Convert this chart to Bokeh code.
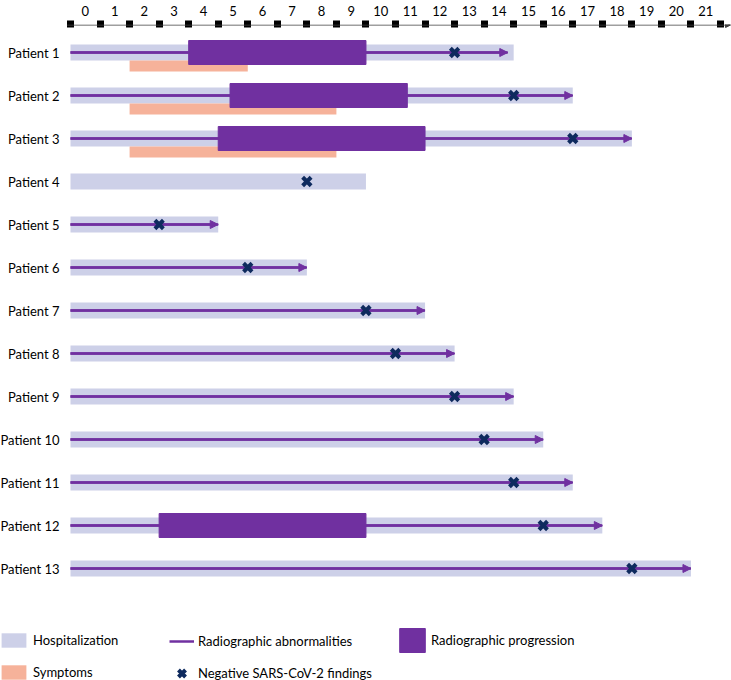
from bokeh.plotting import figure
from bokeh.models import (Range1d, FixedTicker, ColumnDataSource, Arrow, NormalHead,
                          Legend, LegendItem)
from bokeh.embed import file_html
from bokeh.resources import INLINE

# ---------------- data ----------------
patient_labels = ["Patient 1", "Patient 2", "Patient 3", "Patient 4", "Patient 5",
                  "Patient 6", "Patient 7", "Patient 8", "Patient 9", "Patient 10",
                  "Patient 11", "Patient 12", "Patient 13"]
patient_num = [1, 2, 3, 4, 5, 6, 7, 8, 9, 10, 11, 12, 13]
day_ticks = [0, 1, 2, 3, 4, 5, 6, 7, 8, 9, 10, 11, 12, 13, 14, 15, 16, 17, 18, 19, 20, 21]
day_bounds = [0, 1, 2, 3, 4, 5, 6, 7, 8, 9, 10, 11, 12, 13, 14, 15, 16, 17, 18, 19, 20, 21, 22]

hosp_start = [0, 0, 0, 0, 0, 0, 0, 0, 0, 0, 0, 0, 0]
hosp_end = [15, 17, 19, 10, 5, 8, 12, 13, 15, 16, 17, 18, 21]

neg_day = [13, 15, 17, 8, 3, 6, 10, 11, 13, 14, 15, 16, 19]

abn_patients = [1, 2, 3, 5, 6, 7, 8, 9, 10, 11, 12, 13]
abn_start = [0, 0, 0, 0, 0, 0, 0, 0, 0, 0, 0, 0]
abn_end = [14.8, 17, 19, 5, 8, 12, 13, 15, 16, 17, 18, 21]

prog_patients = [1, 2, 3, 12]
prog_start = [4, 5.4, 5, 3]
prog_end = [10, 11.4, 12, 10]

symp_patients = [1, 2, 3]
symp_start = [2, 2, 2]
symp_end = [6, 9, 9]

# ---------------- style / geometry ----------------
FONT = "Lato"
HOSP = "#CDD0E8"
PURPLE = "#7030A0"
SYMP = "#F6B29A"
NAVY = "#0E2A5E"
AXIS = "#404040"

W, H = 731, 680
DAY_PX = 650 / 22.0          # pixels per day
X0_PX = 70.0                 # pixel of day 0
ROW_PX = 43.0                # pixels per patient row
FRAME_TOP = 24
Y_TOP = 1 - 28.0 / ROW_PX
Y_BOTTOM = Y_TOP + (H - FRAME_TOP) / ROW_PX
X_START = -X0_PX / DAY_PX
X_END = (W - X0_PX) / DAY_PX

p = figure(width=W, height=H, output_backend="svg", toolbar_location=None,
           x_range=Range1d(X_START, X_END), y_range=Range1d(Y_BOTTOM, Y_TOP),
           x_axis_location="above", min_border_left=0, min_border_top=FRAME_TOP,
           min_border_right=0, min_border_bottom=0, outline_line_color=None)
p.grid.visible = False

# top axis: labels between square markers
xa = p.xaxis[0]
xa.ticker = FixedTicker(ticks=[d + 0.5 for d in day_ticks], minor_ticks=day_bounds)
xa.major_label_overrides = {d + 0.5: str(d) for d in day_ticks}
xa.major_tick_line_color = None
xa.major_tick_out = 0
xa.major_tick_in = 0
xa.major_label_standoff = 5
xa.minor_tick_line_color = "black"
xa.minor_tick_line_width = 7
xa.minor_tick_in = 3
xa.minor_tick_out = 4
xa.axis_line_color = None
xa.major_label_text_font = FONT
xa.major_label_text_font_size = "13px"
xa.major_label_text_color = "black"

# axis line with arrow head
p.add_layout(Arrow(x_start=-0.12, y_start=Y_TOP + 0.5 / ROW_PX, x_end=22.34,
                   y_end=Y_TOP + 0.5 / ROW_PX, line_color=AXIS, line_width=1,
                   end=NormalHead(size=5, fill_color=AXIS, line_color=AXIS)))

# left axis: patient labels
ya = p.yaxis[0]
ya.fixed_location = -4.0 / DAY_PX
ya.ticker = FixedTicker(ticks=patient_num)
ya.major_label_overrides = {n: lab for n, lab in zip(patient_num, patient_labels)}
ya.axis_line_color = None
ya.major_tick_line_color = None
ya.major_tick_out = 0
ya.major_tick_in = 0
ya.minor_tick_line_color = None
ya.minor_tick_out = 0
ya.major_label_standoff = 7
ya.major_label_text_font = FONT
ya.major_label_text_font_size = "13px"
ya.major_label_text_color = "black"

# hospitalization
r_hosp = p.hbar(y=patient_num, left=hosp_start, right=hosp_end, height=16 / ROW_PX,
                fill_color=HOSP, line_color=None)

# symptoms (below the hospitalization bar)
symp_y = [n + 13.5 / ROW_PX for n in symp_patients]
r_symp = p.hbar(y=symp_y, left=symp_start, right=symp_end, height=11 / ROW_PX,
                fill_color=SYMP, line_color=None)

# radiographic progression
r_prog = p.hbar(y=prog_patients, left=prog_start, right=prog_end, height=24 / ROW_PX,
                fill_color=PURPLE, line_color=PURPLE, line_width=1)

# radiographic abnormalities (line + arrow head)
abn_src = ColumnDataSource(dict(y=abn_patients, x0=abn_start, x1=abn_end))
r_abn = p.segment(x0="x0", y0="y", x1="x1", y1="y", source=abn_src,
                  line_color=PURPLE, line_width=2.5)
p.add_layout(Arrow(x_start="x0", y_start="y", x_end="x1", y_end="y", source=abn_src,
                   line_color=PURPLE, line_width=2.5,
                   end=NormalHead(size=8, fill_color=PURPLE, line_color=PURPLE)))

# negative SARS-CoV-2 findings
r_neg = p.scatter(x=neg_day, y=patient_num, marker="x", size=12, line_width=4,
                  line_color=NAVY, level="overlay")

# ---------------- legends ----------------
common = dict(padding=0, margin=0, border_line_color=None, background_fill_alpha=0,
              label_text_font=FONT, label_text_font_size="13px",
              label_text_color="black")

leg1 = Legend(items=[LegendItem(label="Hospitalization", renderers=[r_hosp]),
                     LegendItem(label="Symptoms", renderers=[r_symp])],
              location=(-2, -1), glyph_width=31, glyph_height=18, label_height=18,
              spacing=14, label_standoff=4, **common)
leg2 = Legend(items=[LegendItem(label="Radiographic abnormalities", renderers=[r_abn]),
                     LegendItem(label="Negative SARS-CoV-2 findings", renderers=[r_neg])],
              location=(169, -8), glyph_width=25, glyph_height=30, label_height=30,
              spacing=2, label_standoff=4, **common)
leg3 = Legend(items=[LegendItem(label="Radiographic progression", renderers=[r_prog])],
              location=(396, 25), glyph_width=32, glyph_height=30, label_height=30,
              spacing=0, label_standoff=3, **common)
for lg in (leg1, leg2, leg3):
    p.add_layout(lg)

open("out.html", "w").write(file_html(p, INLINE))
